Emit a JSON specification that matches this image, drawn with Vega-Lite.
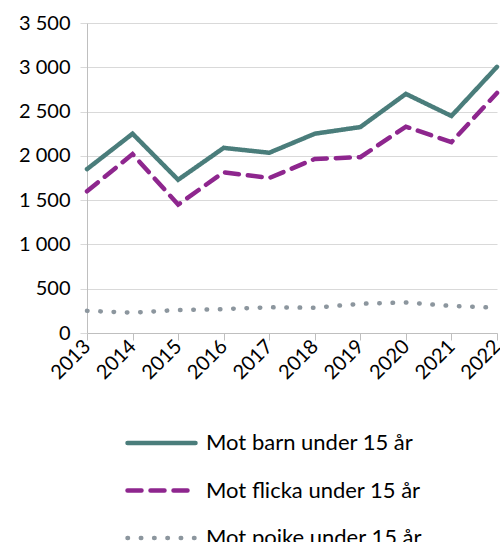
{
  "$schema": "https://vega.github.io/schema/vega-lite/v6.json",
  "width": 410,
  "height": 310,
  "autosize": {"type": "none"},
  "padding": {"left": 87, "top": 23, "right": 3, "bottom": 209},
  "background": "white",
  "data": {
    "values": [
      {"year": "2013", "serie": "Mot barn under 15 år", "antal": 1850},
      {"year": "2014", "serie": "Mot barn under 15 år", "antal": 2250},
      {"year": "2015", "serie": "Mot barn under 15 år", "antal": 1730},
      {"year": "2016", "serie": "Mot barn under 15 år", "antal": 2090},
      {"year": "2017", "serie": "Mot barn under 15 år", "antal": 2035},
      {"year": "2018", "serie": "Mot barn under 15 år", "antal": 2250},
      {"year": "2019", "serie": "Mot barn under 15 år", "antal": 2325},
      {"year": "2020", "serie": "Mot barn under 15 år", "antal": 2700},
      {"year": "2021", "serie": "Mot barn under 15 år", "antal": 2450},
      {"year": "2022", "serie": "Mot barn under 15 år", "antal": 3005},
      {"year": "2013", "serie": "Mot flicka under 15 år", "antal": 1600},
      {"year": "2014", "serie": "Mot flicka under 15 år", "antal": 2020},
      {"year": "2015", "serie": "Mot flicka under 15 år", "antal": 1450},
      {"year": "2016", "serie": "Mot flicka under 15 år", "antal": 1815},
      {"year": "2017", "serie": "Mot flicka under 15 år", "antal": 1750},
      {"year": "2018", "serie": "Mot flicka under 15 år", "antal": 1965},
      {"year": "2019", "serie": "Mot flicka under 15 år", "antal": 1985},
      {"year": "2020", "serie": "Mot flicka under 15 år", "antal": 2330},
      {"year": "2021", "serie": "Mot flicka under 15 år", "antal": 2155},
      {"year": "2022", "serie": "Mot flicka under 15 år", "antal": 2710},
      {"year": "2013", "serie": "Mot pojke under 15 år", "antal": 250},
      {"year": "2014", "serie": "Mot pojke under 15 år", "antal": 230},
      {"year": "2015", "serie": "Mot pojke under 15 år", "antal": 260},
      {"year": "2016", "serie": "Mot pojke under 15 år", "antal": 270},
      {"year": "2017", "serie": "Mot pojke under 15 år", "antal": 290},
      {"year": "2018", "serie": "Mot pojke under 15 år", "antal": 285},
      {"year": "2019", "serie": "Mot pojke under 15 år", "antal": 330},
      {"year": "2020", "serie": "Mot pojke under 15 år", "antal": 345},
      {"year": "2021", "serie": "Mot pojke under 15 år", "antal": 305},
      {"year": "2022", "serie": "Mot pojke under 15 år", "antal": 285}
    ]
  },
  "mark": {"type": "line", "strokeCap": "round", "strokeJoin": "miter"},
  "encoding": {
    "x": {
      "field": "year",
      "type": "ordinal",
      "scale": {"type": "point", "padding": 0},
      "axis": {
        "title": null,
        "labelAngle": -45,
        "labelAlign": "right",
        "labelBaseline": "middle",
        "labelPadding": 3,
        "labelFontSize": 20,
        "tickSize": 7,
        "tickColor": "#bfbfbf",
        "domainColor": "#bfbfbf",
        "grid": false
      }
    },
    "y": {
      "field": "antal",
      "type": "quantitative",
      "scale": {"domain": [0, 3500], "nice": false},
      "axis": {
        "title": null,
        "values": [0, 500, 1000, 1500, 2000, 2500, 3000, 3500],
        "labelExpr": "replace(format(datum.value, ','), ',', ' ')",
        "labelFontSize": 20,
        "labelPadding": 10,
        "tickSize": 7,
        "tickColor": "#d9d9d9",
        "gridColor": "#d9d9d9",
        "domainColor": "#bfbfbf"
      }
    },
    "color": {
      "field": "serie",
      "type": "nominal",
      "scale": {
        "domain": ["Mot barn under 15 år", "Mot flicka under 15 år", "Mot pojke under 15 år"],
        "range": ["#4a7d7b", "#8e268e", "#8c969e"]
      },
      "legend": {
        "title": null,
        "orient": "none",
        "legendX": 38,
        "legendY": 408,
        "direction": "vertical",
        "symbolType": "stroke",
        "symbolSize": 4624,
        "symbolStrokeWidth": 5,
        "labelFontSize": 22,
        "labelOffset": 8,
        "labelLimit": 400,
        "clipHeight": 24,
        "rowPadding": 23.5,
        "symbolDash": {"expr": "datum.label == 'Mot flicka under 15 år' ? [14, 9] : datum.label == 'Mot pojke under 15 år' ? [0.5, 13.5] : []"},
        "encode": {"symbols": {"update": {"strokeCap": {"value": "round"}}}}
      }
    },
    "strokeDash": {
      "field": "serie",
      "type": "nominal",
      "scale": {
        "domain": ["Mot barn under 15 år", "Mot flicka under 15 år", "Mot pojke under 15 år"],
        "range": [[1, 0], [14, 9], [0.5, 12.8]]
      },
      "legend": null
    },
    "strokeWidth": {
      "field": "serie",
      "type": "nominal",
      "scale": {
        "domain": ["Mot barn under 15 år", "Mot flicka under 15 år", "Mot pojke under 15 år"],
        "range": [4.5, 4.5, 5.5]
      },
      "legend": null
    }
  },
  "config": {
    "font": "Lato",
    "view": {"stroke": null},
    "axis": {"labelColor": "#000000", "labelFont": "Lato"},
    "legend": {"labelColor": "#000000", "labelFont": "Lato"}
  }
}
